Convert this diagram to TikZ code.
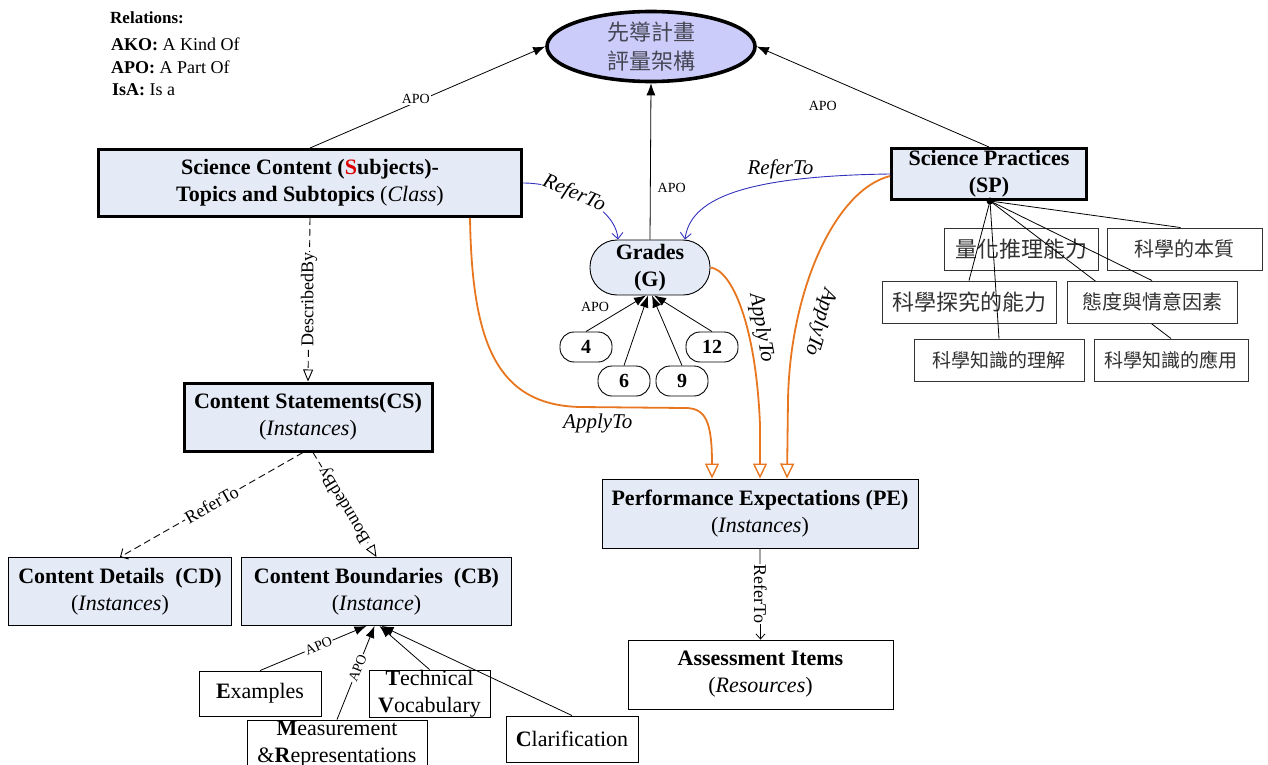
\documentclass[tikz,border=0pt]{standalone}
\usepackage{fontspec}
\setmainfont{Liberation Serif}
\newfontfamily\cjk{Noto Sans CJK TC}
\usetikzlibrary{arrows.meta,shapes.geometric}
\definecolor{boxfill}{RGB}{228,234,246}
\definecolor{ellfill}{RGB}{204,204,250}
\definecolor{orangeC}{RGB}{232,118,30}
\definecolor{blueC}{RGB}{50,50,190}
\definecolor{ellText}{RGB}{70,70,85}
\definecolor{cjkText}{RGB}{50,50,50}
\definecolor{redS}{RGB}{220,0,0}
\newcommand{\myfs}[2]{\fontsize{#1}{#2}\selectfont}
\tikzset{
  base/.style={draw, align=center, inner sep=0pt, font=\myfs{22}{27}},
  bluebox/.style={base, fill=boxfill, line width=0.9pt},
  heavybox/.style={base, fill=boxfill, line width=3pt},
  whitebox/.style={base, fill=white, line width=0.9pt},
  cjkbox/.style={draw=black!80, fill=white, line width=0.9pt, inner sep=0pt, text=cjkText, minimum height=42pt},
  gradebox/.style={base, fill=white, line width=0.9pt, rounded corners=14pt, minimum width=52pt, minimum height=30pt, font=\bfseries\myfs{20}{24}},
  apo/.style={font=\myfs{14}{16}, inner sep=1pt},
  apoarrow/.style={line width=0.8pt, -{Latex[length=12pt,width=9pt]}},
  applyto/.style={draw=orangeC, line width=1.8pt, -{Triangle[open,fill=white,length=15pt,width=14pt,line width=1.4pt]}},
  referblue/.style={draw=blueC, line width=0.9pt, -{Straight Barb[length=6pt,width=11pt]}},
  dashline/.style={line width=0.9pt, dash pattern=on 7pt off 4pt},
  lbl/.style={font=\itshape\myfs{21}{24}, inner sep=1pt},
  smalllbl/.style={font=\myfs{18}{20}, inner sep=1pt, fill=white},
  thinline/.style={line width=0.8pt},
}
\begin{document}
\begin{tikzpicture}[x=1pt,y=-1pt]
\useasboundingbox (0,0) rectangle (1268,765);

% legend
\node[anchor=west, inner sep=0pt, font=\bfseries\myfs{17}{20}] (rel) at (110,18) {Relations:};
\node[anchor=west, inner sep=0pt, font=\myfs{18}{20}] (ako) at (111,44) {\textbf{AKO:} A Kind Of};
\node[anchor=west, inner sep=0pt, font=\myfs{18}{20}] (apol) at (111,67) {\textbf{APO:} A Part Of};
\node[anchor=west, inner sep=0pt, font=\myfs{18}{20}] (isa) at (112,90) {\textbf{IsA:} Is a};

% main nodes
\node[ellipse, draw, line width=3.6pt, fill=ellfill, minimum width=208pt, minimum height=70pt,
      inner sep=0pt, align=center, text=ellText, font=\cjk\myfs{22}{29}] (ell) at (651,46.5) {先導計畫\\評量架構};

\node[heavybox, minimum width=423pt, minimum height=67pt] (sc) at (310,183)
  {\textbf{Science Content (\textcolor{redS}{S}ubjects)-}\\\textbf{Topics and Subtopics} (\textit{Class})};
\node[heavybox, minimum width=195pt, minimum height=51pt] (sp) at (989,174)
  {\textbf{Science Practices}\\\textbf{(SP)}};
\node[base, fill=boxfill, line width=0.9pt, rounded corners=27pt, minimum width=120pt, minimum height=55pt] (gr) at (650,267.5)
  {\textbf{Grades}\\\textbf{(G)}};
\node[gradebox] (g4) at (586,347) {4};
\node[gradebox] (g12) at (712,347) {12};
\node[gradebox] (g6) at (624,381) {6};
\node[gradebox] (g9) at (682,381) {9};

\node[heavybox, minimum width=248pt, minimum height=68pt] (cs) at (308,417)
  {\textbf{Content Statements(CS)}\\(\textit{Instances})};
\node[bluebox, minimum width=223pt, minimum height=68pt] (cd) at (120,591.5)
  {\textbf{Content Details\ \ (CD)}\\(\textit{Instances})};
\node[bluebox, minimum width=270pt, minimum height=68pt] (cb) at (376.5,591.5)
  {\textbf{Content Boundaries\ \ (CB)}\\(\textit{Instance})};
\node[bluebox, minimum width=316pt, minimum height=69pt] (pe) at (760,513.5)
  {\textbf{Performance Expectations (PE)}\\(\textit{Instances})};
\node[whitebox, minimum width=265pt, minimum height=69pt] (ai) at (760.5,674.5)
  {\textbf{Assessment Items}\\(\textit{Resources})};

\node[whitebox, minimum width=122pt, minimum height=45pt] (ex) at (260,693.5) {\textbf{E}xamples};
\node[whitebox, minimum width=121pt, minimum height=45pt] (tv) at (429.5,693.5) {\textbf{T}echnical\\\textbf{V}ocabulary};
\node[whitebox, minimum width=180pt, minimum height=48pt] (mr) at (337,744) {\textbf{M}easurement\\\&\textbf{R}epresentations};
\node[whitebox, minimum width=132pt, minimum height=46pt] (cl) at (572,739) {\textbf{C}larification};

% SP children
\node[cjkbox, minimum width=154pt, font=\cjk\myfs{22}{26}] (q1) at (1021,249) {量化推理能力};
\node[cjkbox, minimum width=155pt, font=\cjk\myfs{20}{26}] (q2) at (1184.5,249) {科學的本質};
\node[cjkbox, minimum width=174pt, font=\cjk\myfs{22}{26}] (q3) at (969,302) {科學探究的能力};
\node[cjkbox, minimum width=170pt, font=\cjk\myfs{19}{26}] (q5) at (999,360) {科學知識的理解};
\node[cjkbox, minimum width=154pt, font=\cjk\myfs{19}{26}] (q6) at (1171,360) {科學知識的應用};
\coordinate (dot) at (990,201);
\draw[thinline] (dot) -- (q3.north);
\draw[thinline] (dot) -- (q5.north);
\draw[thinline] (dot) -- (q6.north);
\draw[thinline] (dot) -- ([xshift=-4pt]q2.north);
\node[cjkbox, minimum width=170pt, font=\cjk\myfs{20}{26}] (q4) at (1152,302) {態度與情意因素};
\draw[thinline] (dot) -- (q4.north);
\fill (dot) circle (3.5pt);

% APO to top ellipse
\draw[apoarrow] (sc.north) -- (ell.west) node[pos=0.45, yshift=3pt, fill=white, apo] {APO};
\draw[apoarrow] (sp.north) -- (ell.east) node[pos=0.716, yshift=-31pt, apo] {APO};
\draw[apoarrow] (gr.north) -- (ell.south) node[pos=0.33, anchor=west, xshift=6pt, apo] {APO};

% grades
\draw[apoarrow] (g4.north) -- ([xshift=-4pt]gr.south) node[pos=0.15, yshift=19pt, apo] {APO};
\draw[apoarrow] (g6.north) -- ([xshift=-2pt]gr.south);
\draw[apoarrow] (g9.north) -- ([xshift=2pt]gr.south);
\draw[apoarrow] (g12.north) -- ([xshift=4pt]gr.south);

% blue ReferTo
\draw[referblue] (sc.east) .. controls (560,183) and (615,205) .. ([xshift=-32pt]gr.north)
  node[pos=0.42, sloped, fill=white, lbl, text=black] {ReferTo};
\draw[referblue] (sp.west) .. controls (740,176) and (690,200) .. ([xshift=35pt]gr.north)
  node[pos=0.3, above=1pt, lbl, text=black] {ReferTo};

% orange ApplyTo
\draw[applyto] ([xshift=160pt]sc.south) .. controls (472,340) and (495,405) .. (580,407)
  -- (685,408) node[pos=0.17, below=5pt, lbl, text=black] {ApplyTo}
  .. controls (705,408) and (712,420) .. ([xshift=-48pt]pe.north);
\draw[applyto] (gr.east) .. controls (732,270) and (756,325) .. (760,425) -- (pe.north);
\node[lbl, rotate=-80] (lblg) at (761,328) {ApplyTo};
\draw[applyto] ([yshift=-2pt]sp.west) .. controls (835,190) and (790,290) .. (788,400) -- ([xshift=27pt]pe.north);
\node[lbl, rotate=-106] (lbls) at (820,322) {ApplyTo};

% dashed relations
\draw[dashline, -{Triangle[open,fill=white,length=12pt,width=10pt]}] (sc.south) -- (cs.north)
  node[midway, rotate=90, smalllbl] {DescribedBy};
\draw[dashline, -{Straight Barb[length=6pt,width=12pt]}] ([xshift=-5pt]cs.south) -- (cd.north)
  node[midway, sloped, smalllbl] {ReferTo};
\draw[dashline, -{Triangle[open,fill=white,length=12pt,width=10pt]}] ([xshift=5pt]cs.south) -- (cb.north)
  node[midway, rotate=121, smalllbl] {BoundedBy};

% PE to AI
\draw[thinline, -{Straight Barb[length=5pt,width=9pt]}] (pe.south) -- (ai.north)
  node[midway, rotate=-90, smalllbl] {ReferTo};

% CB parts
\draw[apoarrow] (ex.north) -- ([xshift=-10pt]cb.south) node[pos=0.55, sloped, fill=white, apo] {APO};
\draw[apoarrow] (mr.north) -- ([xshift=-2pt]cb.south) node[pos=0.55, sloped, fill=white, apo] {APO};
\draw[apoarrow] (tv.north) -- ([xshift=3pt]cb.south);
\draw[apoarrow] (cl.north) -- ([xshift=5pt]cb.south);
\end{tikzpicture}
\end{document}
